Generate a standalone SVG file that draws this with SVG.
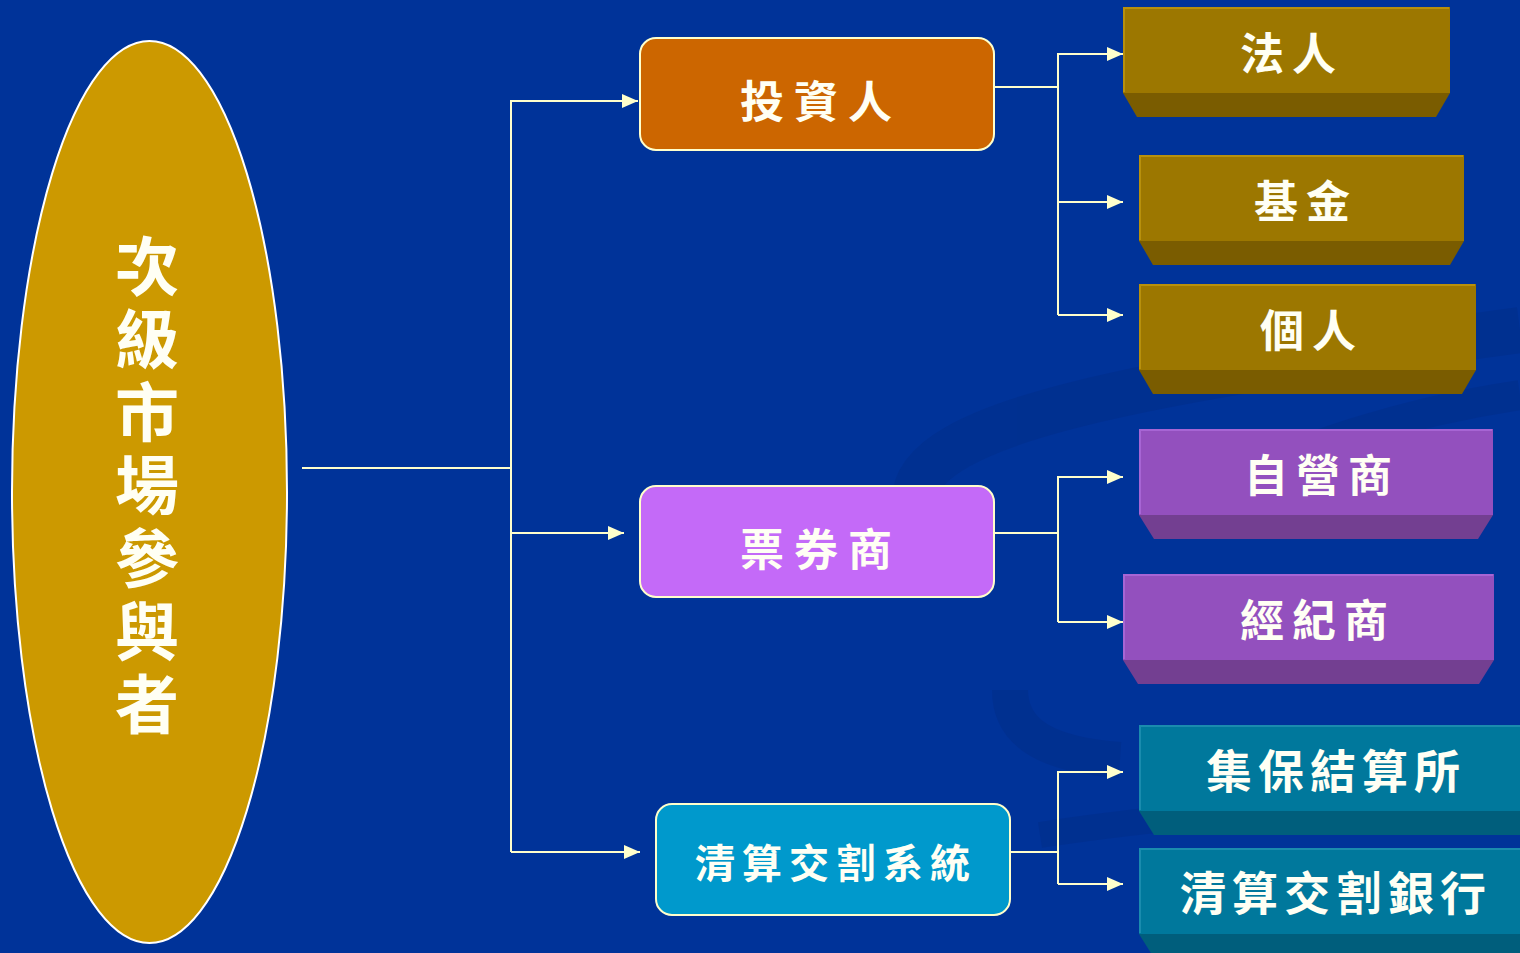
<svg xmlns="http://www.w3.org/2000/svg" width="1520" height="953" viewBox="0 0 1520 953">
<defs>
<style>
.t{font-family:"Noto Sans CJK TC","Noto Sans CJK SC",sans-serif;font-weight:700;fill:#FFFFF4;text-anchor:middle;}
.c{fill:none;stroke:#FFFFCC;stroke-width:2;}
.rb{stroke:#FFFFCC;stroke-width:2;}
.gold .f{fill:#9C7700;} .gold .b{fill:#7A5C00;} .gold .h{stroke:#B8900C;}
.pur .f{fill:#9350BE;} .pur .b{fill:#733F91;} .pur .h{stroke:#A765D4;}
.teal .f{fill:#00789C;} .teal .b{fill:#005E7C;} .teal .h{stroke:#1A8CAE;}
.h{fill:none;stroke-width:2;}
</style>
<marker id="ah" markerWidth="16" markerHeight="14" refX="16" refY="7" orient="auto" markerUnits="userSpaceOnUse">
<path d="M0,0 L16,7 L0,14 Z" fill="#FFFFCC"/>
</marker>
</defs>
<rect width="1520" height="953" fill="#003399"/>
<g id="background" fill="none" opacity="0.4">
<path d="M 915 500 C 915 420, 1150 380, 1520 330" stroke="#002C85" stroke-width="46"/>
<path d="M 1150 520 C 1300 440, 1420 410, 1520 395" stroke="#002C85" stroke-width="30"/>
<path d="M 1010 690 C 1010 735, 1050 755, 1120 760" stroke="#002C85" stroke-width="36"/>
<path d="M 1040 835 C 1200 810, 1400 800, 1520 790" stroke="#002C85" stroke-width="26"/>
</g>
<g id="connectors">
<path class="c" d="M302,468 H511"/>
<path class="c" d="M511,852 V101 H638" marker-end="url(#ah)"/>
<path class="c" d="M511,533 H624" marker-end="url(#ah)"/>
<path class="c" d="M511,852 H640" marker-end="url(#ah)"/>
<path class="c" d="M994,87 H1058"/>
<path class="c" d="M1058,315 V54 H1123" marker-end="url(#ah)"/>
<path class="c" d="M1058,202 H1123" marker-end="url(#ah)"/>
<path class="c" d="M1058,315 H1123" marker-end="url(#ah)"/>
<path class="c" d="M994,533 H1058"/>
<path class="c" d="M1058,622 V477 H1123" marker-end="url(#ah)"/>
<path class="c" d="M1058,622 H1123" marker-end="url(#ah)"/>
<path class="c" d="M1010,852 H1058"/>
<path class="c" d="M1058,884 V772 H1123" marker-end="url(#ah)"/>
<path class="c" d="M1058,884 H1123" marker-end="url(#ah)"/>
</g>
<g id="participants">
<ellipse cx="149.5" cy="492" rx="137.5" ry="451" fill="#CC9900" stroke="#FFFFFF" stroke-width="2"/>
<text class="t" font-size="64" x="147" y="234" writing-mode="tb" style="text-anchor:start" letter-spacing="9">次級市場參與者</text>
</g>
<g id="investor">
<rect class="rb" x="640" y="38" width="354" height="112" rx="16" fill="#CC6600"/>
<text class="t" font-size="44" x="821" y="118" letter-spacing="10">投資人</text>
</g>
<g id="dealer">
<rect class="rb" x="640" y="486" width="354" height="111" rx="16" fill="#C46AF8"/>
<text class="t" font-size="44" x="821" y="566" letter-spacing="10">票券商</text>
</g>
<g id="clearing-system">
<rect class="rb" x="656" y="804" width="354" height="111" rx="16" fill="#0099CC"/>
<text class="t" font-size="40" x="836" y="878" letter-spacing="7">清算交割系統</text>
</g>
<g id="institution" class="gold">
<rect class="f" x="1123" y="7" width="327" height="86"/>
<path class="b" d="M1123,93 H1450 L1436,117 H1137 Z"/>
<path class="h" d="M1124,92 V8 H1449"/>
<text class="t" font-size="44" x="1292" y="70" letter-spacing="8">法人</text>
</g>
<g id="fund" class="gold">
<rect class="f" x="1139" y="155" width="325" height="86"/>
<path class="b" d="M1139,241 H1464 L1450,265 H1153 Z"/>
<path class="h" d="M1140,240 V156 H1463"/>
<text class="t" font-size="44" x="1306" y="218" letter-spacing="8">基金</text>
</g>
<g id="individual" class="gold">
<rect class="f" x="1139" y="284" width="337" height="86"/>
<path class="b" d="M1139,370 H1476 L1462,394 H1153 Z"/>
<path class="h" d="M1140,369 V285 H1475"/>
<text class="t" font-size="44" x="1312" y="347" letter-spacing="8">個人</text>
</g>
<g id="proprietary-dealer" class="pur">
<rect class="f" x="1139" y="429" width="354" height="86"/>
<path class="b" d="M1139,515 H1493 L1478,539 H1154 Z"/>
<path class="h" d="M1140,514 V430 H1492"/>
<text class="t" font-size="44" x="1322" y="492" letter-spacing="8">自營商</text>
</g>
<g id="broker" class="pur">
<rect class="f" x="1123" y="574" width="371" height="86"/>
<path class="b" d="M1123,660 H1494 L1479,684 H1138 Z"/>
<path class="h" d="M1124,659 V575 H1493"/>
<text class="t" font-size="44" x="1318" y="637" letter-spacing="8">經紀商</text>
</g>
<g id="depository" class="teal">
<rect class="f" x="1139" y="725" width="400" height="86"/>
<path class="b" d="M1139,811 H1540 L1525,835 H1154 Z"/>
<path class="h" d="M1140,810 V726 H1540"/>
<text class="t" font-size="46" x="1336" y="788" letter-spacing="6">集保結算所</text>
</g>
<g id="clearing-bank" class="teal">
<rect class="f" x="1139" y="848" width="400" height="86"/>
<path class="b" d="M1139,934 H1540 L1525,958 H1154 Z"/>
<path class="h" d="M1140,933 V849 H1540"/>
<text class="t" font-size="46" x="1336" y="910" letter-spacing="6">清算交割銀行</text>
</g>
</svg>
